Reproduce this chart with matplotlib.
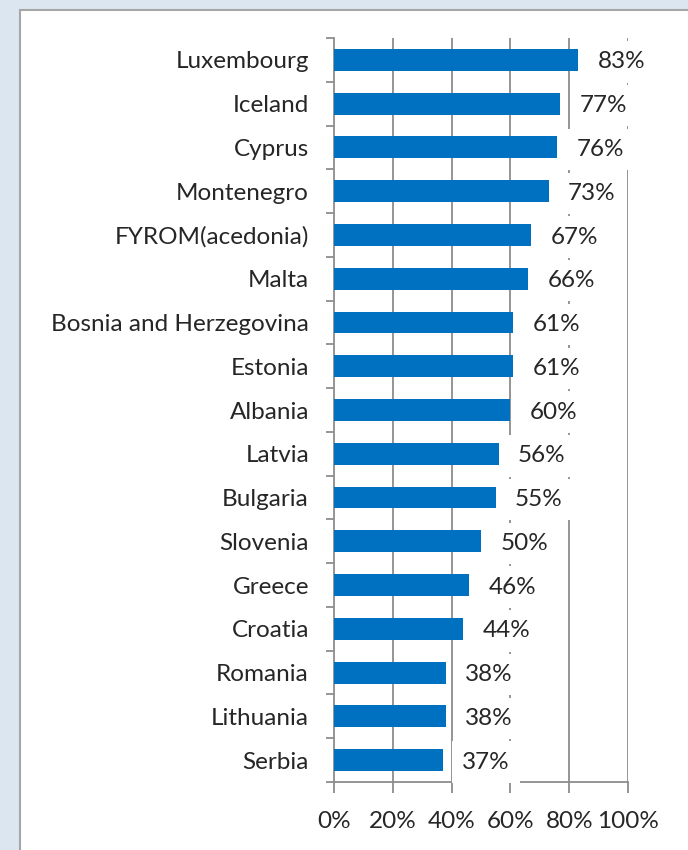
import matplotlib.pyplot as plt
import numpy as np
from matplotlib.patches import Rectangle
from matplotlib.ticker import FixedLocator, PercentFormatter

countries = ['Luxembourg', 'Iceland', 'Cyprus', 'Montenegro', 'FYROM(acedonia)', 'Malta',
             'Bosnia and Herzegovina', 'Estonia', 'Albania', 'Latvia', 'Bulgaria', 'Slovenia',
             'Greece', 'Croatia', 'Romania', 'Lithuania', 'Serbia']
shares = [83, 77, 76, 73, 67, 66, 61, 61, 60, 56, 55, 50, 46, 44, 38, 38, 37]
x_ticks = [0, 20, 40, 60, 80, 100]

plt.rcParams['font.family'] = ['Lato', 'DejaVu Sans']
text_col = '#262626'
grid_col = '#8c8c8c'
fs = 17.5

fig = plt.figure(figsize=(6.88, 8.5), dpi=100)

# screenshot frame: light strip on left/top plus grey border
fig.patches.append(Rectangle((0, 0), 1, 1, transform=fig.transFigure, color='#dce6f1', zorder=-3))
fig.patches.append(Rectangle((20 / 688, -0.1), 1.2, 1.1 - 10 / 850, transform=fig.transFigure,
                             facecolor='white', edgecolor='#a6a6a6', linewidth=1.5, zorder=-2))

ax = fig.add_axes([334 / 688, 1 - 782 / 850, 294 / 688, 744 / 850])
ax.patch.set_alpha(0)

y = np.arange(len(countries))
ax.barh(y, shares, height=0.5, color='#0070c0', zorder=3)
ax.set_ylim(len(countries) - 0.5, -0.5)
ax.set_xlim(0, 100)

ax.set_yticks(y)
ax.set_yticklabels(countries, fontsize=fs, color=text_col)
ax.yaxis.set_minor_locator(FixedLocator(np.arange(len(countries) + 1) - 0.5))
ax.tick_params(axis='y', which='major', length=0, pad=18)
ax.tick_params(axis='y', which='minor', length=6, width=1.3, color=grid_col)

ax.set_xticks(x_ticks)
ax.xaxis.set_major_formatter(PercentFormatter(decimals=0))
ax.tick_params(axis='x', length=8, width=1.3, color=grid_col, labelsize=fs,
               labelcolor=text_col, pad=13)

for s in ['top', 'right']:
    ax.spines[s].set_visible(False)
for s in ['left', 'bottom']:
    ax.spines[s].set_color(grid_col)
    ax.spines[s].set_linewidth(1.3)

for v in x_ticks[1:]:
    ax.axvline(v, color=grid_col, linewidth=1.3, zorder=1)

# value labels with white boxes (they hide the gridlines behind them)
for yi, v in zip(y, shares):
    ax.annotate(f'{v}%', (v, yi), xytext=(14, -1.5), textcoords='offset points',
                ha='left', va='center', fontsize=fs, color=text_col, zorder=6,
                annotation_clip=False,
                bbox=dict(boxstyle='square,pad=0.42', facecolor='white', edgecolor='none'))

fig.savefig('out.png', dpi=100)
